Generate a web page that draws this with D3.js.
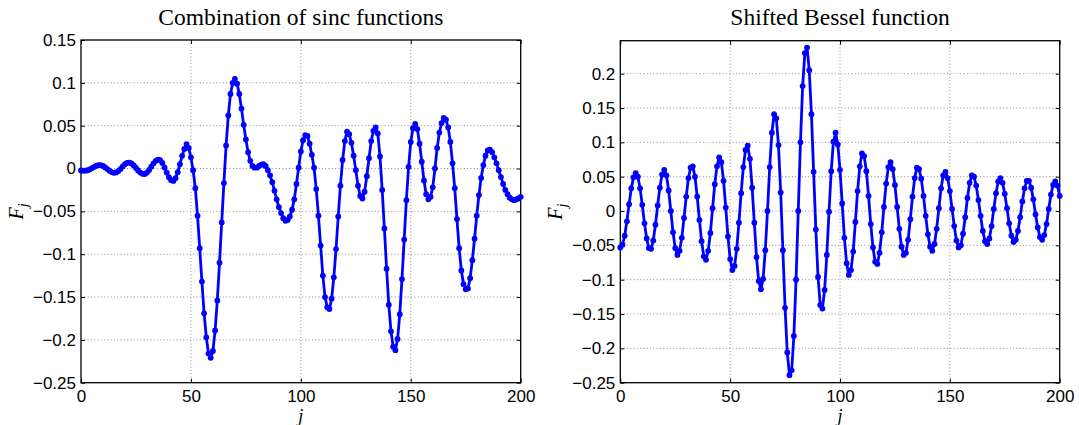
<!DOCTYPE html>
<html>
<head>
<meta charset="utf-8">
<script src="https://cdn.jsdelivr.net/npm/d3@7"></script>
<style>
  html, body { margin: 0; padding: 0; background: #fff; }
  svg { display: block; }
</style>
</head>
<body>
<svg id="chart" width="1079" height="425"></svg>
<script>
// values, one per j = 0..200
const sincValues = [
  -0.0023, -0.0025, -0.0025, -0.0020, -0.0009, 0.0005, 0.0020, 0.0032, 0.0039, 0.0039,
  0.0030, 0.0013, -0.0007, -0.0027, -0.0042, -0.0050, -0.0046, -0.0030, -0.0005, 0.0025,
  0.0050, 0.0066, 0.0069, 0.0059, 0.0036, 0.0007, -0.0023, -0.0048, -0.0062, -0.0064,
  -0.0047, -0.0017, 0.0022, 0.0060, 0.0090, 0.0104, 0.0098, 0.0065, 0.0013, -0.0047,
  -0.0101, -0.0136, -0.0145, -0.0113, -0.0043, 0.0050, 0.0148, 0.0229, 0.0285, 0.0240,
  0.0130, -0.0020, -0.0230, -0.0550, -0.0930, -0.1320, -0.1690, -0.1970, -0.2160, -0.2210,
  -0.2130, -0.1890, -0.1540, -0.1100, -0.0630, -0.0170, 0.0270, 0.0620, 0.0870, 0.1000,
  0.1045, 0.0990, 0.0870, 0.0700, 0.0510, 0.0340, 0.0190, 0.0090, 0.0030, 0.0010,
  0.0010, 0.0030, 0.0045, 0.0050, 0.0030, -0.0020, -0.0080, -0.0160, -0.0260, -0.0360,
  -0.0450, -0.0520, -0.0580, -0.0610, -0.0600, -0.0560, -0.0480, -0.0360, -0.0180, 0.0010,
  0.0200, 0.0330, 0.0390, 0.0380, 0.0290, 0.0160, 0.0010, -0.0240, -0.0550, -0.0900,
  -0.1250, -0.1500, -0.1620, -0.1640, -0.1520, -0.1270, -0.0940, -0.0560, -0.0200, 0.0100,
  0.0320, 0.0430, 0.0400, 0.0300, 0.0150, -0.0020, -0.0200, -0.0320, -0.0350, -0.0270,
  -0.0090, 0.0120, 0.0320, 0.0440, 0.0480, 0.0410, 0.0140, -0.0250, -0.0700, -0.1170,
  -0.1590, -0.1900, -0.2080, -0.2120, -0.1990, -0.1700, -0.1290, -0.0830, -0.0370, 0.0020,
  0.0310, 0.0470, 0.0520, 0.0460, 0.0290, 0.0080, -0.0140, -0.0300, -0.0360, -0.0330,
  -0.0220, 0.0000, 0.0240, 0.0420, 0.0530, 0.0590, 0.0570, 0.0480, 0.0310, 0.0060,
  -0.0230, -0.0590, -0.0930, -0.1190, -0.1350, -0.1410, -0.1400, -0.1280, -0.1070, -0.0820,
  -0.0550, -0.0310, -0.0110, 0.0040, 0.0150, 0.0210, 0.0220, 0.0190, 0.0130, 0.0060,
  -0.0020, -0.0100, -0.0180, -0.0250, -0.0300, -0.0340, -0.0360, -0.0370, -0.0360, -0.0350,
  -0.0330
];

const besselValues = [
  -0.053, -0.049, -0.036, -0.015, 0.010, 0.033, 0.049, 0.055, 0.050, 0.033,
  0.009, -0.018, -0.040, -0.054, -0.055, -0.043, -0.020, 0.008, 0.034, 0.053,
  0.060, 0.052, 0.030, 0.000, -0.031, -0.054, -0.064, -0.058, -0.039, -0.010,
  0.021, 0.048, 0.063, 0.065, 0.050, 0.021, -0.013, -0.044, -0.066, -0.071,
  -0.058, -0.032, 0.004, 0.039, 0.065, 0.078, 0.071, 0.044, 0.005, -0.037,
  -0.070, -0.086, -0.080, -0.055, -0.017, 0.026, 0.064, 0.089, 0.095, 0.076,
  0.034, -0.017, -0.067, -0.102, -0.114, -0.099, -0.057, 0.000, 0.064, 0.114,
  0.141, 0.135, 0.096, 0.027, -0.057, -0.141, -0.206, -0.239, -0.232, -0.182,
  -0.100, 0.000, 0.100, 0.182, 0.230, 0.238, 0.205, 0.141, 0.057, -0.027,
  -0.096, -0.137, -0.142, -0.115, -0.064, -0.001, 0.058, 0.101, 0.114, 0.097,
  0.060, 0.011, -0.039, -0.076, -0.093, -0.086, -0.059, -0.016, 0.029, 0.065,
  0.084, 0.080, 0.058, 0.022, -0.019, -0.053, -0.074, -0.077, -0.061, -0.031,
  0.006, 0.040, 0.064, 0.071, 0.061, 0.038, 0.006, -0.026, -0.052, -0.064,
  -0.061, -0.042, -0.012, 0.021, 0.048, 0.063, 0.061, 0.047, 0.022, -0.007,
  -0.034, -0.052, -0.058, -0.048, -0.026, 0.004, 0.033, 0.052, 0.057, 0.048,
  0.029, 0.003, -0.022, -0.043, -0.053, -0.050, -0.033, -0.009, 0.019, 0.041,
  0.052, 0.050, 0.037, 0.016, -0.007, -0.029, -0.044, -0.048, -0.040, -0.022,
  0.003, 0.026, 0.043, 0.048, 0.041, 0.025, 0.004, -0.018, -0.036, -0.045,
  -0.042, -0.029, -0.009, 0.014, 0.033, 0.044, 0.044, 0.034, 0.017, -0.005,
  -0.024, -0.038, -0.042, -0.035, -0.019, 0.003, 0.024, 0.038, 0.043, 0.037,
  0.022
];

const xTicks = [0, 50, 100, 150, 200];
const sincTicks = [-0.25, -0.2, -0.15, -0.1, -0.05, 0, 0.05, 0.1, 0.15];
const besselTicks = [-0.25, -0.2, -0.15, -0.1, -0.05, 0, 0.05, 0.1, 0.15, 0.2];
const titles = ['Combination of sinc functions', 'Shifted Bessel function'];

const svg = d3.select('#chart');

// minus sign like matlab prints it
const fmt = (d) => d === 0 ? '0' : (d < 0 ? '\u2212' : '') + String(+Math.abs(d).toFixed(2));

function drawPanel(opts) {
  const { left, right, top, bottom, yDomain, yTicks, values, title } = opts;

  const x = d3.scaleLinear().domain([0, 200]).range([left, right]);
  const y = d3.scaleLinear().domain(yDomain).range([bottom, top]);

  const g = svg.append('g');

  // dotted grid
  g.append('g').selectAll('line.vg')
    .data(xTicks.filter(d => d > 0 && d < 200))
    .enter().append('line')
      .attr('x1', d => x(d)).attr('x2', d => x(d))
      .attr('y1', top).attr('y2', bottom)
      .attr('stroke', '#8c8c8c').attr('stroke-width', 1)
      .attr('stroke-dasharray', '1,2.3');
  g.append('g').selectAll('line.hg')
    .data(yTicks.filter(d => y(d) > top + 1 && y(d) < bottom - 1))
    .enter().append('line')
      .attr('x1', left).attr('x2', right)
      .attr('y1', d => y(d)).attr('y2', d => y(d))
      .attr('stroke', '#8c8c8c').attr('stroke-width', 1)
      .attr('stroke-dasharray', '1,2.3');

  // axes, ticks pointing inwards like matlab
  const font = '"Liberation Sans", Arial, sans-serif';
  const xAxis = g.append('g').attr('transform', `translate(0,${bottom})`)
    .call(d3.axisBottom(x).tickValues(xTicks).tickSize(-4).tickPadding(7.2).tickFormat(d3.format('d')));
  const xTop = g.append('g').attr('transform', `translate(0,${top})`)
    .call(d3.axisTop(x).tickValues(xTicks).tickSize(-4).tickFormat(''));
  const yAxis = g.append('g').attr('transform', `translate(${left},0)`)
    .call(d3.axisLeft(y).tickValues(yTicks).tickSize(-4).tickPadding(5).tickFormat(fmt));
  const yRight = g.append('g').attr('transform', `translate(${right},0)`)
    .call(d3.axisRight(y).tickValues(yTicks).tickSize(-4).tickFormat(''));

  [xAxis, xTop, yAxis, yRight].forEach(a => {
    a.select('.domain').remove();
    a.selectAll('line').attr('stroke', '#000');
    a.selectAll('text').attr('fill', '#000').style('font-family', font).style('font-size', '17px');
  });

  g.append('rect')
    .attr('x', left).attr('y', top)
    .attr('width', right - left).attr('height', bottom - top)
    .attr('fill', 'none').attr('stroke', '#000').attr('stroke-width', 1.3);

  const line = d3.line().x((d, i) => x(i)).y(d => y(d));

  g.append('path')
    .datum(values)
    .attr('d', line)
    .attr('fill', 'none')
    .attr('stroke', '#0000ff')
    .attr('stroke-width', 2.8)
    .attr('stroke-linejoin', 'round');

  g.append('g').selectAll('circle')
    .data(values)
    .enter().append('circle')
      .attr('cx', (d, i) => x(i))
      .attr('cy', d => y(d))
      .attr('r', 2.9)
      .attr('fill', '#0000ff');

  // title
  g.append('text')
    .attr('x', (left + right) / 2).attr('y', 25)
    .attr('text-anchor', 'middle')
    .style('font-family', '"Liberation Serif", "Times New Roman", serif')
    .style('font-size', '23.5px')
    .text(title);

  // x label
  g.append('text')
    .attr('x', (left + right) / 2).attr('y', 422)
    .attr('text-anchor', 'middle')
    .style('font-family', '"Liberation Serif", "Times New Roman", serif')
    .style('font-style', 'italic')
    .style('font-size', '18px')
    .text('j');

  // y label F_j
  const yl = g.append('text')
    .attr('transform', `translate(${left - 58},${(top + bottom) / 2}) rotate(-90)`)
    .attr('text-anchor', 'middle')
    .style('font-family', '"Liberation Serif", "Times New Roman", serif')
    .style('font-style', 'italic')
    .style('font-size', '20px');
  yl.append('tspan').text('F');
  yl.append('tspan').attr('dy', 5).style('font-size', '14px').text('j');
}

drawPanel({
  left: 81, right: 520.7, top: 40, bottom: 382.7,
  yDomain: [-0.25, 0.15], yTicks: sincTicks,
  values: sincValues, title: titles[0]
});

drawPanel({
  left: 620.3, right: 1059.7, top: 40.7, bottom: 382.7,
  yDomain: [-0.25, 0.248], yTicks: besselTicks,
  values: besselValues, title: titles[1]
});
</script>
</body>
</html>
